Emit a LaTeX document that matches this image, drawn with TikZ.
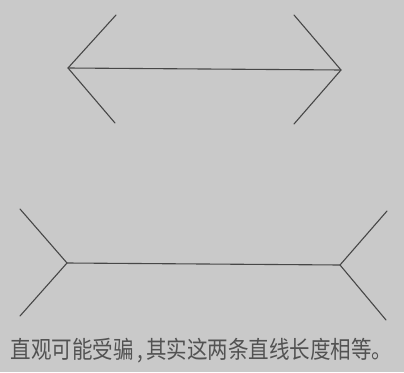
\documentclass[tikz,border=0pt]{standalone}
\usepackage{fontspec}
\newfontfamily\cjk{Noto Sans CJK SC}
\definecolor{bg}{HTML}{C9C9C9}
\definecolor{ln}{HTML}{474747}
\definecolor{tx}{HTML}{525252}
\tikzset{fig/.style={draw=ln, line width=1.1pt, line cap=round, line join=round}}
\begin{document}
\begin{tikzpicture}[x=1pt,y=-1pt]
\fill[bg] (0,0) rectangle (404,372);
\useasboundingbox (0,0) rectangle (404,372);
% top figure (arrowheads outward)
\coordinate (tl) at (68,68);
\coordinate (tr) at (341,70);
\coordinate (tlu) at (116,15);
\coordinate (tld) at (115,123);
\coordinate (tru) at (294,15);
\coordinate (trd) at (294,124);
\draw[fig] (tl) -- (tr);
\draw[fig] (tlu) -- (tl) -- (tld);
\draw[fig] (tru) -- (tr) -- (trd);
% bottom figure (fins inward)
\coordinate (bl) at (67,263);
\coordinate (br) at (340,265);
\coordinate (blu) at (20,209);
\coordinate (bld) at (20,316);
\coordinate (bru) at (387,211);
\coordinate (brd) at (386,320);
\draw[fig] (bl) -- (br);
\draw[fig] (blu) -- (bl) -- (bld);
\draw[fig] (bru) -- (br) -- (brd);
% caption
\node[text=tx, inner sep=0pt, anchor=center] (cap) at (201.5,351)
  {\scalebox{0.855}[1]{\cjk\fontsize{24}{24}\selectfont 直观可能受骗\makebox[0.6em][c]{,}其实这两条直线长度相等。}};
\end{tikzpicture}
\end{document}
